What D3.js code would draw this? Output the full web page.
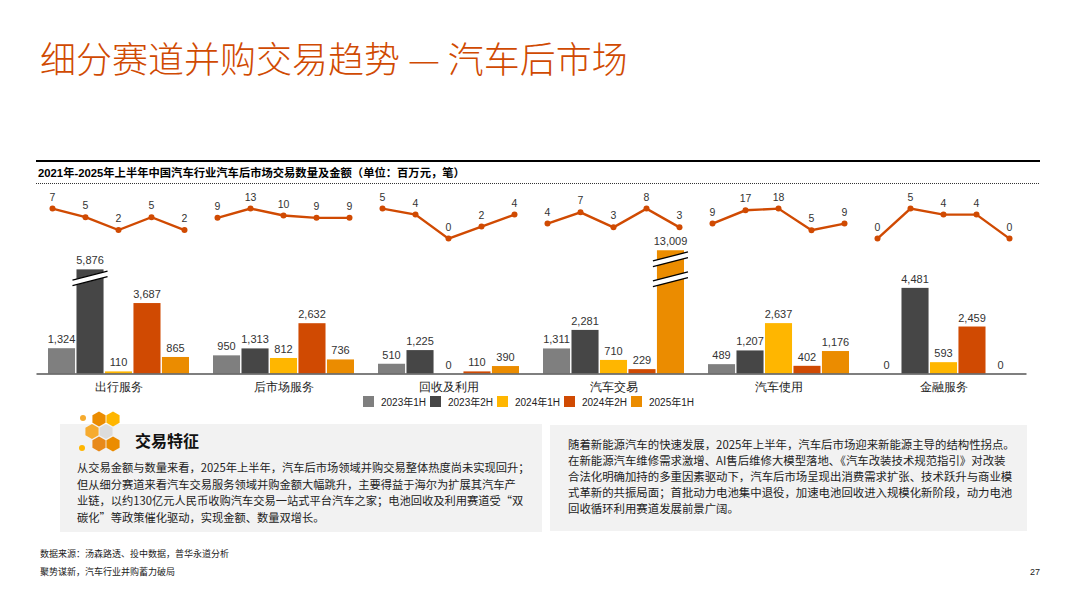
<!DOCTYPE html>
<html>
<head>
<meta charset="utf-8">
<script src="https://cdn.jsdelivr.net/npm/d3@7/dist/d3.min.js"></script>
<style>
  html, body { margin: 0; padding: 0; background: #fff; }
  svg { display: block; font-family: "Liberation Sans", "Noto Sans CJK SC", sans-serif; }
</style>
</head>
<body>
<div id="chart"></div>
<script>
// categories and series
const categories = ["出行服务", "后市场服务", "回收及利用", "汽车交易", "汽车使用", "金融服务"];
const seriesNames = ["2023年1H", "2023年2H", "2024年1H", "2024年2H", "2025年1H"];
const seriesColors = ["#7f7f7f", "#464646", "#ffb600", "#d04a02", "#eb8c00"];

// deal amounts (百万元), one row per category, in series order
const amounts = [
  [1324, 5876, 110, 3687, 865],
  [950, 1313, 812, 2632, 736],
  [510, 1225, 0, 110, 390],
  [1311, 2281, 710, 229, 13009],
  [489, 1207, 2637, 402, 1176],
  [0, 4481, 593, 2459, 0]
];

// deal counts (笔)
const counts = [
  [7, 5, 2, 5, 2],
  [9, 13, 10, 9, 9],
  [5, 4, 0, 2, 4],
  [4, 7, 3, 8, 3],
  [9, 17, 18, 5, 9],
  [0, 5, 4, 4, 0]
];

// bars drawn with an axis break: value shown up to "shown", with n break marks
const brokenBars = [
  { cat: "出行服务", series: "2023年2H", shown: 5450, marks: 1 },
  { cat: "汽车交易", series: "2025年1H", shown: 6450, marks: 2 }
];

const leftText = [
  "从交易金额与数量来看，2025年上半年，汽车后市场领域并购交易整体热度尚未实现回升；",
  "但从细分赛道来看汽车交易服务领域并购金额大幅跳升，主要得益于海尔为扩展其汽车产",
  "业链，以约130亿元人民币收购汽车交易一站式平台汽车之家；电池回收及利用赛道受“双",
  "碳化”等政策催化驱动，实现金额、数量双增长。"
];
const rightText = [
  "随着新能源汽车的快速发展，2025年上半年，汽车后市场迎来新能源主导的结构性拐点。",
  "在新能源汽车维修需求激增、AI售后维修大模型落地、《汽车改装技术规范指引》对改装",
  "合法化明确加持的多重因素驱动下，汽车后市场呈现出消费需求扩张、技术跃升与商业模",
  "式革新的共振局面；首批动力电池集中退役，加速电池回收进入规模化新阶段，动力电池",
  "回收循环利用赛道发展前景广阔。"
];

const W = 1080, H = 607;
const orange = "#d04a02";
const cjk = "'Noto Sans CJK SC', sans-serif";

const svg = d3.select("#chart")
  .append("svg")
  .attr("width", W)
  .attr("height", H);

// page title
svg.append("text")
  .attr("x", 40)
  .attr("y", 73)
  .attr("fill", orange)
  .style("font-family", cjk)
  .style("font-size", "36px")
  .style("font-weight", 300)
  .text("细分赛道并购交易趋势 — 汽车后市场");

// chart header
svg.append("line")
  .attr("x1", 36).attr("x2", 1040)
  .attr("y1", 161).attr("y2", 161)
  .attr("stroke", "#000").attr("stroke-width", 2);

svg.append("text")
  .attr("x", 38)
  .attr("y", 177)
  .attr("fill", "#000")
  .style("font-size", "11.3px")
  .style("font-weight", "bold")
  .text("2021年-2025年上半年中国汽车行业汽车后市场交易数量及金额（单位：百万元，笔）");

svg.append("line")
  .attr("x1", 36).attr("x2", 1040)
  .attr("y1", 183.5).attr("y2", 183.5)
  .attr("stroke", "#333").attr("stroke-width", 1.2)
  .attr("stroke-dasharray", "1,1");

// scales
const baseY = 373.5;
const x0 = d3.scaleBand().domain(categories).range([36, 1026]);
const x1 = d3.scaleBand().domain(seriesNames).range([12, 153]).paddingInner(0.05);
const y = d3.scaleLinear().domain([0, 6500]).range([baseY, baseY - 124.2]);
const color = d3.scaleOrdinal().domain(seriesNames).range(seriesColors);

const rows = [];
categories.forEach((c, ci) => {
  seriesNames.forEach((s, si) => {
    const br = brokenBars.find(b => b.cat === c && b.series === s);
    rows.push({ cat: c, series: s, value: amounts[ci][si], shown: br ? br.shown : amounts[ci][si], marks: br ? br.marks : 0 });
  });
});

const barG = svg.append("g");

barG.selectAll("rect")
  .data(rows.filter(d => d.value > 0))
  .join("rect")
  .attr("x", d => x0(d.cat) + x1(d.series))
  .attr("y", d => y(d.shown))
  .attr("width", x1.bandwidth())
  .attr("height", d => baseY - y(d.shown))
  .attr("fill", d => color(d.series));

// break marks
rows.filter(d => d.marks > 0).forEach(d => {
  const bx = x0(d.cat) + x1(d.series);
  const top = y(d.shown);
  for (let k = 0; k < d.marks; k++) {
    const cy = top + 9 + k * 20;
    const xl = bx - 4, xr = bx + x1.bandwidth() + 4;
    const tilt = 4.5, gap = 2.8;
    barG.append("path")
      .attr("d", `M${xl},${cy + tilt - gap}L${xr},${cy - tilt - gap}L${xr},${cy - tilt + gap}L${xl},${cy + tilt + gap}Z`)
      .attr("fill", "#fff");
    [-gap, gap].forEach(o => {
      barG.append("line")
        .attr("x1", xl).attr("y1", cy + tilt + o)
        .attr("x2", xr).attr("y2", cy - tilt + o)
        .attr("stroke", "#000").attr("stroke-width", 1.3);
    });
  }
});

// bar value labels
barG.selectAll("text.val")
  .data(rows)
  .join("text")
  .attr("class", "val")
  .attr("x", d => x0(d.cat) + x1(d.series) + x1.bandwidth() / 2)
  .attr("y", d => y(d.shown) - 5)
  .attr("text-anchor", "middle")
  .attr("fill", "#333")
  .style("font-size", "11px")
  .text(d => d3.format(",")(d.value));

// axis
const xAxis = svg.append("g")
  .attr("transform", `translate(0,${baseY})`)
  .call(d3.axisBottom(x0).tickSize(0).tickPadding(9));
xAxis.select(".domain").attr("stroke", "#555").attr("stroke-width", 1.6);
xAxis.selectAll("text")
  .attr("fill", "#222")
  .style("font-size", "12px");

// legend
const legend = svg.append("g")
  .attr("transform", "translate(363,396)");
const li = legend.selectAll("g")
  .data(seriesNames)
  .join("g")
  .attr("transform", (d, i) => `translate(${i * 67},0)`);
li.append("rect")
  .attr("width", 11).attr("height", 11)
  .attr("fill", d => color(d));
li.append("text")
  .attr("x", 18).attr("y", 9.5)
  .attr("fill", "#222")
  .style("font-size", "10px")
  .text(d => d);

// count lines, one small line per category with its own scale
const px = d3.scalePoint().domain(seriesNames).range([-66, 66]);
categories.forEach((c, ci) => {
  const vals = counts[ci];
  const ly = d3.scaleLinear().domain([0, d3.max(vals)]).range([238.6, 208.6]);
  const cx = x0(c) + x0.bandwidth() / 2;
  const pts = vals.map((v, i) => ({ s: seriesNames[i], v }));
  const g = svg.append("g").attr("transform", `translate(${cx},0)`);
  g.append("path")
    .datum(pts)
    .attr("fill", "none")
    .attr("stroke", orange)
    .attr("stroke-width", 2.4)
    .attr("d", d3.line().x(d => px(d.s)).y(d => ly(d.v)));
  g.selectAll("circle")
    .data(pts)
    .join("circle")
    .attr("cx", d => px(d.s))
    .attr("cy", d => ly(d.v))
    .attr("r", 3)
    .attr("fill", orange);
  g.selectAll("text")
    .data(pts)
    .join("text")
    .attr("x", d => px(d.s))
    .attr("y", d => ly(d.v) - 8)
    .attr("text-anchor", "middle")
    .attr("fill", "#333")
    .style("font-size", "10.5px")
    .text(d => d.v);
});

// text boxes
svg.append("rect")
  .attr("x", 60).attr("y", 424)
  .attr("width", 482).attr("height", 108)
  .attr("fill", "#f2f2f2");
svg.append("rect")
  .attr("x", 550).attr("y", 425)
  .attr("width", 477).attr("height", 106)
  .attr("fill", "#f2f2f2");

// honeycomb icon
const hexes = [
  { cx: 99, cy: 419, fill: "#eb8c00" },
  { cx: 113, cy: 419, fill: "#ffb600" },
  { cx: 92, cy: 431.5, fill: "#f6ab2f" },
  { cx: 106, cy: 431.5, fill: "#dcdcdc" },
  { cx: 99, cy: 444, fill: "#e8891a" },
  { cx: 113, cy: 444, fill: "#eb8c00" }
];
const hexPath = (cx, cy, r) => d3.range(6).map(k => {
  const a = Math.PI / 3 * k - Math.PI / 2;
  return [cx + r * Math.cos(a), cy + r * Math.sin(a)];
});
svg.selectAll("path.hex")
  .data(hexes)
  .join("path")
  .attr("class", "hex")
  .attr("d", d => "M" + hexPath(d.cx, d.cy, 7.6).join("L") + "Z")
  .attr("fill", d => d.fill);
svg.append("circle").attr("cx", 83).attr("cy", 418).attr("r", 3).attr("fill", "#f6ab2f");
svg.append("circle").attr("cx", 82).attr("cy", 448).attr("r", 3).attr("fill", "#ffb600");

svg.append("text")
  .attr("x", 135).attr("y", 447)
  .attr("fill", "#111")
  .style("font-family", cjk)
  .style("font-size", "16px")
  .style("font-weight", "bold")
  .text("交易特征");

svg.append("g")
  .selectAll("text")
  .data(leftText)
  .join("text")
  .attr("x", 77)
  .attr("y", (d, i) => 472 + i * 16.5)
  .attr("fill", "#222")
  .style("font-family", cjk)
  .style("font-size", "11.25px")
  .text(d => d);

svg.append("g")
  .selectAll("text")
  .data(rightText)
  .join("text")
  .attr("x", 568)
  .attr("y", (d, i) => 449 + i * 16)
  .attr("fill", "#222")
  .style("font-family", cjk)
  .style("font-size", "11.4px")
  .text(d => d);

// footer
svg.append("text")
  .attr("x", 40).attr("y", 557)
  .attr("fill", "#222")
  .style("font-size", "9px")
  .text("数据来源：汤森路透、投中数据，普华永道分析");
svg.append("text")
  .attr("x", 40).attr("y", 575)
  .attr("fill", "#222")
  .style("font-size", "9px")
  .text("聚势谋新，汽车行业并购蓄力破局");
svg.append("text")
  .attr("x", 1040).attr("y", 575)
  .attr("text-anchor", "end")
  .attr("fill", "#222")
  .style("font-size", "9px")
  .text("27");
</script>
</body>
</html>
